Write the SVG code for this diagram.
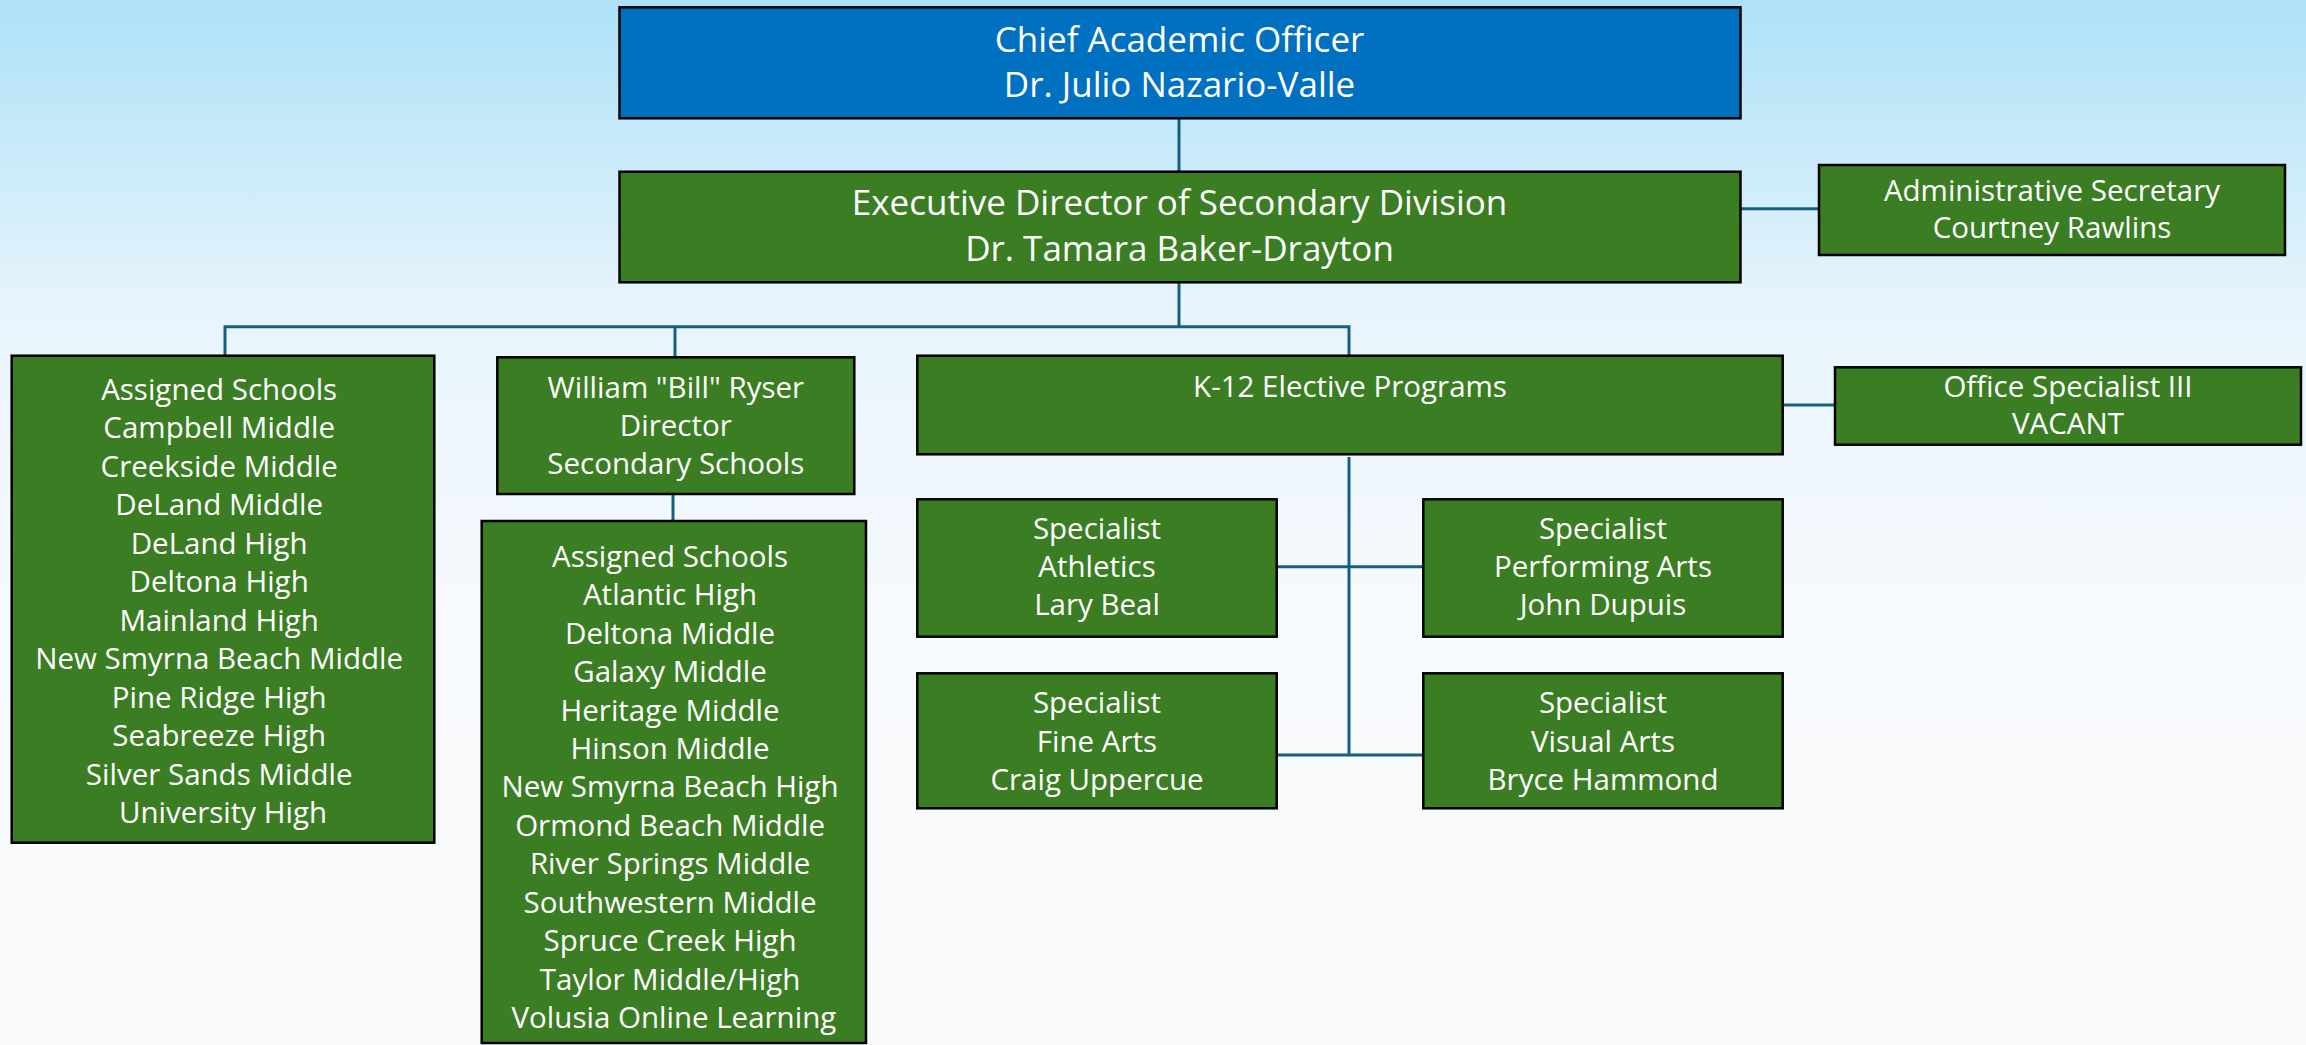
<svg xmlns="http://www.w3.org/2000/svg" width="2306" height="1045" viewBox="0 0 2306 1045">
<defs>
<linearGradient id="bg" x1="0" y1="0" x2="0" y2="1">
<stop offset="0" stop-color="#ADE1F7"/>
<stop offset="0.3" stop-color="#E8F4FC"/>
<stop offset="0.6" stop-color="#F7FAFD"/>
<stop offset="1" stop-color="#FAFAFA"/>
</linearGradient>
<style>
.box{fill:#3B7D23;stroke:#000;stroke-width:2.5}
.blue{fill:#0070C0}
.t{font-family:'Open Sans','Noto Sans','Liberation Sans',sans-serif;fill:#fff;text-anchor:middle}
.big{font-size:35px}
.sm{font-size:29.5px}
.conn{stroke:#156082;stroke-width:3;fill:none}
</style>
</defs>
<rect x="0" y="0" width="2306" height="1045" fill="url(#bg)"/>

<g id="connectors">
<line class="conn" x1="1179" y1="118" x2="1179" y2="172"/>
<line class="conn" x1="1740" y1="208.7" x2="1819" y2="208.7"/>
<line class="conn" x1="1179" y1="282" x2="1179" y2="326.7"/>
<polyline class="conn" points="225,356 225,326.7 1349,326.7 1349,356"/>
<line class="conn" x1="675" y1="326.7" x2="675" y2="357"/>
<line class="conn" x1="673" y1="494" x2="673" y2="521"/>
<line class="conn" x1="1782.7" y1="405" x2="1835" y2="405"/>
<line class="conn" x1="1349" y1="457" x2="1349" y2="755"/>
<line class="conn" x1="1276.7" y1="566.7" x2="1423.3" y2="566.7"/>
<line class="conn" x1="1276.7" y1="755" x2="1423.3" y2="755"/>
</g>

<g id="chief">
<rect class="box blue" x="619.5" y="7.3" width="1121" height="111"/>
<text class="t big"><tspan x="1179.5" y="51.7">Chief Academic Officer</tspan><tspan x="1179.5" y="97.3">Dr. Julio Nazario-Valle</tspan></text>
</g>

<g id="exec">
<rect class="box" x="619.5" y="171.7" width="1121" height="110.6"/>
<text class="t big"><tspan x="1179.5" y="215">Executive Director of Secondary Division</tspan><tspan x="1179.5" y="261">Dr. Tamara Baker-Drayton</tspan></text>
</g>

<g id="admin">
<rect class="box" x="1819" y="165" width="466" height="90"/>
<text class="t sm"><tspan x="2052" y="200.7">Administrative Secretary</tspan><tspan x="2052" y="238.3">Courtney Rawlins</tspan></text>
</g>

<g id="assigned1">
<rect class="box" x="11.7" y="355.7" width="422.6" height="487"/>
<text class="t sm">
<tspan x="223" y="400">Assigned Schools</tspan>
<tspan x="223" y="438.45">Campbell Middle</tspan>
<tspan x="223" y="476.9">Creekside Middle</tspan>
<tspan x="223" y="515.35">DeLand Middle</tspan>
<tspan x="223" y="553.8">DeLand High</tspan>
<tspan x="223" y="592.25">Deltona High</tspan>
<tspan x="223" y="630.7">Mainland High</tspan>
<tspan x="223" y="669.15">New Smyrna Beach Middle</tspan>
<tspan x="223" y="707.6">Pine Ridge High</tspan>
<tspan x="223" y="746.05">Seabreeze High</tspan>
<tspan x="223" y="784.5">Silver Sands Middle</tspan>
<tspan x="223" y="822.95">University High</tspan>
</text>
</g>

<g id="ryser">
<rect class="box" x="497.3" y="357.3" width="357" height="136.7"/>
<text class="t sm"><tspan x="675.8" y="398.3">William "Bill" Ryser</tspan><tspan x="675.8" y="436.3">Director</tspan><tspan x="675.8" y="474.3">Secondary Schools</tspan></text>
</g>

<g id="assigned2">
<rect class="box" x="481.7" y="521" width="384.3" height="522"/>
<text class="t sm">
<tspan x="673.9" y="566.7">Assigned Schools</tspan>
<tspan x="673.9" y="605.15">Atlantic High</tspan>
<tspan x="673.9" y="643.6">Deltona Middle</tspan>
<tspan x="673.9" y="682.05">Galaxy Middle</tspan>
<tspan x="673.9" y="720.5">Heritage Middle</tspan>
<tspan x="673.9" y="758.95">Hinson Middle</tspan>
<tspan x="673.9" y="797.4">New Smyrna Beach High</tspan>
<tspan x="673.9" y="835.85">Ormond Beach Middle</tspan>
<tspan x="673.9" y="874.3">River Springs Middle</tspan>
<tspan x="673.9" y="912.75">Southwestern Middle</tspan>
<tspan x="673.9" y="951.2">Spruce Creek High</tspan>
<tspan x="673.9" y="989.65">Taylor Middle/High</tspan>
<tspan x="673.9" y="1028.1">Volusia Online Learning</tspan>
</text>
</g>

<g id="k12">
<rect class="box" x="917.3" y="355.7" width="865.4" height="98.6"/>
<text class="t sm"><tspan x="1350" y="397.3">K-12 Elective Programs</tspan></text>
</g>

<g id="office">
<rect class="box" x="1835" y="367.3" width="466" height="77.4"/>
<text class="t sm"><tspan x="2068" y="396.7">Office Specialist III</tspan><tspan x="2068" y="434.3">VACANT</tspan></text>
</g>

<g id="athletics">
<rect class="box" x="917.3" y="499.3" width="359.4" height="137.4"/>
<text class="t sm"><tspan x="1097" y="539.3">Specialist</tspan><tspan x="1097" y="577.3">Athletics</tspan><tspan x="1097" y="615.3">Lary Beal</tspan></text>
</g>

<g id="performing">
<rect class="box" x="1423.3" y="499.3" width="359.4" height="137.4"/>
<text class="t sm"><tspan x="1603" y="539.3">Specialist</tspan><tspan x="1603" y="577.3">Performing Arts</tspan><tspan x="1603" y="615.3">John Dupuis</tspan></text>
</g>

<g id="finearts">
<rect class="box" x="917.3" y="673.3" width="359.4" height="135"/>
<text class="t sm"><tspan x="1097" y="713.3">Specialist</tspan><tspan x="1097" y="751.7">Fine Arts</tspan><tspan x="1097" y="789.7">Craig Uppercue</tspan></text>
</g>

<g id="visualarts">
<rect class="box" x="1423.3" y="673.3" width="359.4" height="135"/>
<text class="t sm"><tspan x="1603" y="713.3">Specialist</tspan><tspan x="1603" y="751.7">Visual Arts</tspan><tspan x="1603" y="789.7">Bryce Hammond</tspan></text>
</g>
</svg>
